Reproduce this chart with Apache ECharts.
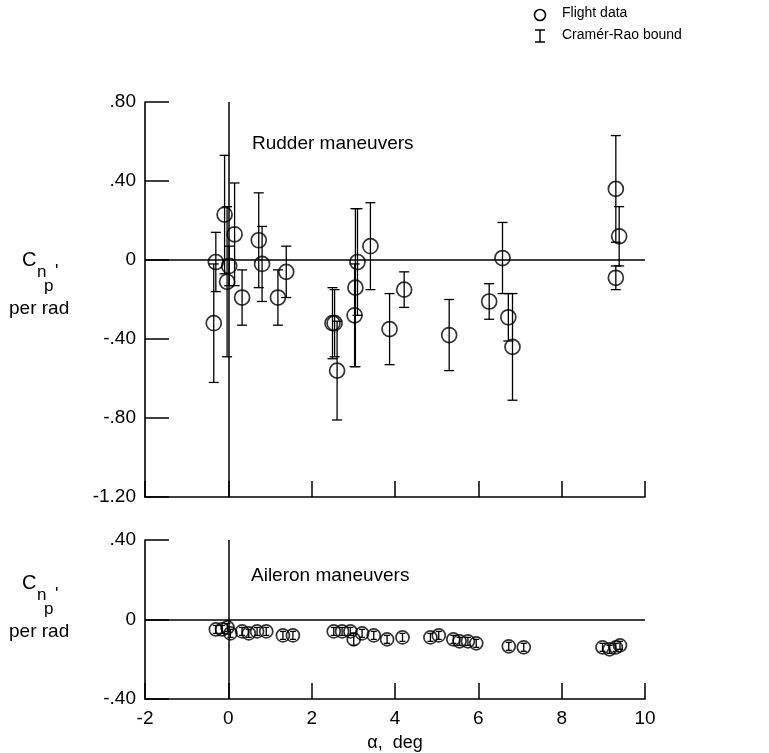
<!DOCTYPE html>
<html><head><meta charset="utf-8">
<script src="https://cdn.jsdelivr.net/npm/echarts@6/dist/echarts.min.js"></script>
<style>html,body{margin:0;padding:0;background:#fff}#c{width:769px;height:753px}</style>
</head><body><div id="c"></div>
<script>
// ---- Data ----
const xTicks = [-2, 0, 2, 4, 6, 8, 10];
const rudderYTicks = [-1.2, -0.8, -0.4, 0, 0.4, 0.8];
const aileronYTicks = [-0.4, 0, 0.4];

const rudderAlpha = [-0.35, -0.30, -0.09, 0.15, 0.02, -0.03, 0.33, 0.73, 0.81, 1.19, 1.39,
  2.50, 2.55, 2.61, 3.03, 3.05, 3.10, 3.41, 3.87, 4.22, 5.30, 6.26, 6.58, 6.72, 6.82, 9.30, 9.38, 9.30];
const rudderCn = [-0.32, -0.01, 0.23, 0.13, -0.03, -0.11, -0.19, 0.10, -0.02, -0.19, -0.06,
  -0.32, -0.32, -0.56, -0.28, -0.14, -0.01, 0.07, -0.35, -0.15, -0.38, -0.21, 0.01, -0.29, -0.44, 0.36, 0.12, -0.09];
const rudderErr = [0.30, 0.15, 0.30, 0.26, 0.10, 0.38, 0.14, 0.24, 0.19, 0.14, 0.13,
  0.18, 0.17, 0.25, 0.26, 0.40, 0.27, 0.22, 0.18, 0.09, 0.18, 0.09, 0.18, 0.12, 0.27, 0.27, 0.15, 0.06];

const aileronAlpha = [-0.30, -0.15, -0.02, 0.05, 0.33, 0.49, 0.69, 0.91, 1.31, 1.55,
  2.53, 2.73, 2.93, 3.01, 3.21, 3.49, 3.81, 4.18, 4.85, 5.05, 5.40, 5.55, 5.75, 5.95,
  6.73, 7.09, 8.98, 9.15, 9.30, 9.40];
const aileronCn = [-0.05, -0.05, -0.04, -0.07, -0.06, -0.07, -0.06, -0.06, -0.08, -0.08,
  -0.06, -0.06, -0.06, -0.10, -0.07, -0.08, -0.10, -0.09, -0.09, -0.08, -0.10, -0.11, -0.11, -0.12,
  -0.135, -0.14, -0.14, -0.15, -0.14, -0.13];
const aileronErr = [0.02, 0.02, 0.02, 0.02, 0.02, 0.02, 0.02, 0.02, 0.02, 0.02,
  0.02, 0.02, 0.02, 0.03, 0.02, 0.02, 0.02, 0.02, 0.02, 0.02, 0.02, 0.02, 0.02, 0.02,
  0.02, 0.02, 0.02, 0.02, 0.02, 0.02];

// ---- Build ----
const FONT = "'Liberation Sans', Arial, sans-serif";
const zip = (a, b, c) => a.map((v, i) => c ? [v, b[i], c[i]] : [v, b[i]]);

function fmtY(v) {
  if (Math.abs(v) < 1e-9) return '0';
  const s = Math.abs(v).toFixed(2).replace(/^0/, '');
  return (v < 0 ? '-' : '') + s;
}

function errItem(hw) {
  return function (params, api) {
    const x = api.value(0), y = api.value(1), e = api.value(2);
    const p1 = api.coord([x, y + e]), p2 = api.coord([x, y - e]);
    const style = { stroke: '#000', lineWidth: 1.3, fill: null };
    return {
      type: 'group', children: [
        { type: 'line', shape: { x1: p1[0], y1: p1[1], x2: p2[0], y2: p2[1] }, style },
        { type: 'line', shape: { x1: p1[0] - hw, y1: p1[1], x2: p1[0] + hw, y2: p1[1] }, style },
        { type: 'line', shape: { x1: p2[0] - hw, y1: p2[1], x2: p2[0] + hw, y2: p2[1] }, style }
      ]
    };
  };
}

const axisLine = { show: true, onZero: false, lineStyle: { color: '#000', width: 1.6 } };
const zeroLines = {
  silent: true, symbol: ['none', 'none'], animation: false,
  label: { show: false },
  lineStyle: { color: '#000', width: 1.5, type: 'solid' },
  emphasis: { disabled: true },
  data: [{ xAxis: 0 }, { yAxis: 0 }]
};

function xAx(gi, showLabels) {
  return {
    type: 'value', gridIndex: gi, min: xTicks[0], max: xTicks[xTicks.length - 1], interval: 2,
    axisLine, splitLine: { show: false },
    axisTick: { show: true, inside: true, length: 16, lineStyle: { color: '#000', width: 1.5 } },
    axisLabel: { show: showLabels, color: '#000', fontFamily: FONT, fontSize: 19, margin: 10 },
    name: showLabels ? 'α,  deg' : '', nameLocation: 'middle', nameGap: 35,
    nameTextStyle: { color: '#000', fontFamily: FONT, fontSize: 18 }
  };
}
function yAx(gi, ticks) {
  return {
    type: 'value', gridIndex: gi, min: ticks[0], max: ticks[ticks.length - 1], interval: 0.4,
    axisLine, splitLine: { show: false },
    axisTick: { show: true, inside: true, length: 24, lineStyle: { color: '#000', width: 1.5 } },
    axisLabel: { color: '#000', fontFamily: FONT, fontSize: 19, margin: 9, formatter: fmtY }
  };
}

const circleStyle = { color: 'rgba(0,0,0,0)', borderColor: '#000', borderWidth: 1.7 };

function ylabel(yC) {
  return [
    { type: 'text', left: 22, top: yC - 12, style: { text: 'C', font: '20px ' + FONT, fill: '#000' } },
    { type: 'text', left: 37, top: yC + 2, style: { text: 'n', font: '17px ' + FONT, fill: '#000' } },
    { type: 'text', left: 44, top: yC + 16, style: { text: 'p', font: '17px ' + FONT, fill: '#000' } },
    { type: 'text', left: 55, top: yC + 1, style: { text: "'", font: '18px ' + FONT, fill: '#000' } },
    { type: 'text', left: 9, top: yC + 37, style: { text: 'per rad', font: '19px ' + FONT, fill: '#000' } }
  ];
}

const chart = echarts.init(document.getElementById('c'), null, { renderer: 'canvas' });
chart.setOption({
  animation: false,
  backgroundColor: '#fff',
  grid: [
    { left: 145, top: 102, width: 500, height: 395, outerBoundsMode: 'none', containLabel: false },
    { left: 145, top: 540, width: 500, height: 159, outerBoundsMode: 'none', containLabel: false }
  ],
  xAxis: [xAx(0, false), xAx(1, true)],
  yAxis: [yAx(0, rudderYTicks), yAx(1, aileronYTicks)],
  series: [
    { type: 'custom', xAxisIndex: 0, yAxisIndex: 0, renderItem: errItem(5), data: zip(rudderAlpha, rudderCn, rudderErr), z: 3, silent: true },
    { type: 'scatter', xAxisIndex: 0, yAxisIndex: 0, data: zip(rudderAlpha, rudderCn), symbol: 'circle', symbolSize: 15, itemStyle: circleStyle, markLine: zeroLines, z: 4, silent: true },
    { type: 'custom', xAxisIndex: 1, yAxisIndex: 1, renderItem: errItem(3), data: zip(aileronAlpha, aileronCn, aileronErr), z: 3, silent: true },
    { type: 'scatter', xAxisIndex: 1, yAxisIndex: 1, data: zip(aileronAlpha, aileronCn), symbol: 'circle', symbolSize: 13, itemStyle: circleStyle, markLine: zeroLines, z: 4, silent: true }
  ],
  graphic: [
    ...ylabel(262),
    ...ylabel(585),
    { type: 'text', left: 252, top: 134, style: { text: 'Rudder maneuvers', font: '19px ' + FONT, fill: '#000' } },
    { type: 'text', left: 251, top: 566, style: { text: 'Aileron maneuvers', font: '19px ' + FONT, fill: '#000' } },
    // legend
    { type: 'circle', shape: { cx: 540, cy: 15, r: 5.5 }, style: { fill: 'none', stroke: '#000', lineWidth: 1.6 } },
    { type: 'line', shape: { x1: 540, y1: 30, x2: 540, y2: 42 }, style: { stroke: '#000', lineWidth: 1.5 } },
    { type: 'line', shape: { x1: 535, y1: 30, x2: 545, y2: 30 }, style: { stroke: '#000', lineWidth: 1.5 } },
    { type: 'line', shape: { x1: 535, y1: 42, x2: 545, y2: 42 }, style: { stroke: '#000', lineWidth: 1.5 } },
    { type: 'text', left: 562, top: 6, style: { text: 'Flight data', font: '14px ' + FONT, fill: '#000' } },
    { type: 'text', left: 562, top: 28, style: { text: 'Cramér-Rao bound', font: '14px ' + FONT, fill: '#000' } }
  ]
});
</script>
</body></html>
